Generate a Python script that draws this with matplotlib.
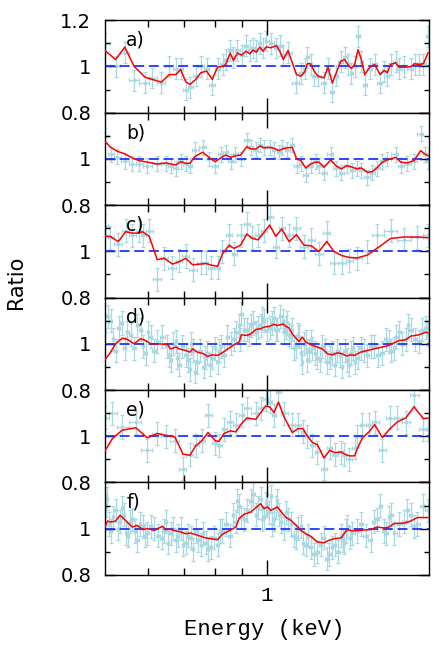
import numpy as np
import matplotlib
matplotlib.use("Agg")
import matplotlib.pyplot as plt
from matplotlib.ticker import NullFormatter

plt.rcParams['font.family'] = 'DejaVu Sans'

# ---- panel a ----
energy_a = [0.500, 0.523, 0.544, 0.566, 0.593, 0.612, 0.636, 0.658, 0.677, 0.691,
            0.706, 0.719, 0.737, 0.753, 0.772, 0.791, 0.809, 0.829, 0.838, 0.854,
            0.866, 0.881, 0.897, 0.913, 0.929, 0.942, 0.955, 0.969, 0.983, 0.997,
            1.016, 1.041, 1.056, 1.072, 1.094, 1.134, 1.155, 1.175, 1.188, 1.205,
            1.223, 1.244, 1.276, 1.298, 1.322, 1.345, 1.370, 1.394, 1.416, 1.434,
            1.455, 1.476, 1.497, 1.519, 1.552, 1.585, 1.622, 1.650, 1.673, 1.697,
            1.734, 1.759, 1.797, 1.849, 1.881, 1.916, 1.952, 1.991]
model_a = [1.069, 1.030, 1.084, 1.001, 0.954, 0.944, 0.932, 0.965, 0.965, 0.987,
           0.934, 0.922, 0.944, 0.973, 0.980, 0.944, 0.997, 1.001, 1.009, 1.058,
           1.026, 1.059, 1.049, 1.066, 1.055, 1.071, 1.062, 1.084, 1.066, 1.085,
           1.081, 1.091, 1.066, 1.030, 1.069, 0.965, 0.958, 0.977, 1.012, 1.012,
           0.980, 0.958, 0.951, 0.997, 0.929, 0.973, 1.023, 1.030, 1.006, 0.991,
           1.009, 1.073, 1.030, 0.965, 0.997, 1.009, 0.965, 0.983, 0.973, 1.009,
           1.016, 0.997, 0.997, 0.999, 1.012, 1.009, 1.012, 1.059]
ratio_a = [1.10, 1.00, 1.06, 0.94, 0.93, 0.95, 0.93, 1.00, 0.99, 0.99,
           0.90, 0.91, 0.96, 1.00, 0.99, 0.92, 0.99, 1.01, 1.03, 1.07,
           1.04, 1.07, 1.05, 1.09, 1.07, 1.08, 1.07, 1.10, 1.08, 1.11,
           1.10, 1.08, 1.09, 1.05, 1.06, 0.93, 0.97, 0.99, 1.04, 1.01,
           0.96, 0.96, 0.93, 0.99, 0.89, 0.96, 1.02, 1.04, 1.01, 0.97,
           1.00, 1.13, 1.02, 0.92, 0.99, 1.01, 0.93, 0.98, 0.96, 1.01,
           1.02, 0.99, 1.00, 0.99, 1.01, 1.01, 1.01, 1.13]
err_a = 0.045

# ---- panel b ----
energy_b = [0.500, 0.512, 0.527, 0.544, 0.562, 0.578, 0.599, 0.625, 0.648, 0.662,
            0.677, 0.691, 0.706, 0.719, 0.734, 0.759, 0.780, 0.801, 0.820, 0.838,
            0.856, 0.872, 0.893, 0.917, 0.933, 0.953, 0.971, 0.987, 1.011, 1.030,
            1.053, 1.068, 1.091, 1.114, 1.135, 1.155, 1.180, 1.205, 1.231, 1.249,
            1.276, 1.313, 1.342, 1.374, 1.406, 1.441, 1.468, 1.497, 1.536, 1.569,
            1.599, 1.638, 1.673, 1.734, 1.772, 1.823, 1.876, 1.930, 1.963, 1.991]
model_b = [1.076, 1.050, 1.033, 1.022, 1.004, 0.993, 0.986, 0.978, 0.983, 0.978,
           0.974, 0.988, 0.981, 0.981, 1.010, 1.029, 1.007, 0.988, 1.004, 1.017,
           1.007, 1.013, 1.017, 1.053, 1.043, 1.043, 1.056, 1.048, 1.050, 1.046,
           1.036, 1.043, 1.048, 1.050, 1.000, 0.993, 0.961, 0.978, 0.986, 0.986,
           0.964, 0.996, 0.971, 0.957, 0.971, 0.964, 0.957, 0.961, 0.942, 0.945,
           0.961, 0.986, 0.996, 1.007, 0.986, 0.983, 0.993, 1.036, 1.022, 1.014]
ratio_b = [1.10, 1.02, 1.01, 0.99, 0.98, 0.98, 0.97, 0.98, 0.98, 0.97,
           0.96, 0.99, 0.98, 0.97, 1.04, 1.05, 1.00, 0.97, 1.02, 1.03,
           0.99, 1.02, 1.00, 1.08, 1.05, 1.04, 1.06, 1.05, 1.05, 1.04,
           1.03, 1.05, 1.04, 1.06, 0.97, 0.98, 0.93, 0.97, 0.99, 0.97,
           0.94, 1.02, 0.96, 0.94, 0.97, 0.95, 0.96, 0.95, 0.92, 0.94,
           0.96, 0.99, 1.00, 1.02, 0.97, 0.98, 0.99, 1.11, 1.02, 0.99]
err_b = 0.032

# ---- panel c ----
energy_c = [0.500, 0.511, 0.529, 0.546, 0.562, 0.578, 0.587, 0.604, 0.625, 0.644,
            0.667, 0.686, 0.706, 0.727, 0.753, 0.769, 0.786, 0.809, 0.826, 0.850,
            0.868, 0.893, 0.917, 0.939, 0.962, 0.987, 1.011, 1.038, 1.065, 1.099,
            1.134, 1.171, 1.209, 1.249, 1.291, 1.332, 1.380, 1.420, 1.468, 1.536,
            1.603, 1.697, 1.797, 1.903, 1.991]
model_c = [1.065, 1.065, 1.042, 1.085, 1.079, 1.079, 1.085, 1.065, 0.964, 0.970,
           0.945, 0.955, 0.970, 0.942, 0.945, 0.948, 0.941, 0.935, 0.988, 1.027,
           1.013, 1.027, 1.075, 1.056, 1.050, 1.082, 1.114, 1.065, 1.097, 1.042,
           1.072, 1.027, 1.024, 0.999, 1.043, 0.999, 0.981, 0.974, 0.971, 0.984,
           1.014, 1.056, 1.062, 1.062, 1.059]
ratio_c = [1.11, 1.06, 1.03, 1.09, 1.07, 1.09, 1.07, 1.09, 0.88, 0.97,
           0.93, 0.96, 0.98, 0.92, 0.95, 0.95, 0.93, 0.93, 1.00, 1.07,
           0.99, 1.07, 1.12, 1.06, 1.07, 1.09, 1.15, 1.02, 1.10, 1.07,
           1.10, 1.02, 1.05, 0.99, 1.08, 0.95, 0.95, 0.96, 0.97, 1.00,
           1.07, 1.09, 1.05, 1.06, 1.07]
err_c = 0.05

# ---- panel d ----
energy_d = [0.500, 0.512, 0.523, 0.538, 0.550, 0.566, 0.582, 0.595, 0.608, 0.625,
            0.653, 0.662, 0.677, 0.686, 0.706, 0.719, 0.727, 0.742, 0.762, 0.775,
            0.791, 0.809, 0.820, 0.844, 0.868, 0.887, 0.896, 0.917, 0.933, 0.953,
            0.973, 0.987, 1.011, 1.030, 1.045, 1.072, 1.083, 1.099, 1.114, 1.134,
            1.147, 1.163, 1.180, 1.197, 1.214, 1.240, 1.267, 1.295, 1.322, 1.351,
            1.380, 1.406, 1.430, 1.455, 1.493, 1.536, 1.581, 1.638, 1.685, 1.722,
            1.759, 1.810, 1.849, 1.916, 1.972, 1.991]
model_d = [0.932, 0.964, 1.000, 1.024, 1.019, 1.000, 1.022, 1.014, 1.000, 1.000,
           0.997, 0.978, 0.986, 0.978, 0.971, 0.964, 0.978, 0.964, 0.957, 0.945,
           0.952, 0.950, 0.957, 0.976, 0.996, 1.007, 1.039, 1.036, 1.043, 1.062,
           1.065, 1.072, 1.076, 1.084, 1.079, 1.086, 1.076, 1.068, 1.043, 1.022,
           1.010, 1.029, 1.007, 1.000, 0.993, 0.986, 0.978, 0.957, 0.952, 0.961,
           0.957, 0.947, 0.952, 0.950, 0.964, 0.971, 0.978, 0.986, 0.993, 1.004,
           1.014, 1.017, 1.033, 1.039, 1.050, 1.048]
ratio_d = [1.05, 1.10, 0.97, 1.09, 1.05, 0.98, 1.06, 0.96, 1.03, 1.01,
           0.99, 0.93, 1.01, 0.91, 0.95, 0.89, 0.97, 0.92, 0.90, 0.96,
           0.94, 0.92, 0.99, 1.03, 1.02, 1.08, 1.13, 1.06, 1.08, 1.05,
           1.08, 1.10, 1.07, 1.11, 1.06, 1.10, 1.07, 1.04, 1.06, 0.99,
           1.03, 0.92, 1.01, 0.97, 0.98, 0.94, 0.99, 0.92, 0.96, 0.97,
           0.90, 0.93, 0.96, 0.92, 0.98, 0.95, 0.99, 0.96, 1.01, 0.98,
           1.05, 1.02, 1.06, 1.01, 1.07, 1.04]
# extra (narrower) bins of panel d that lie between the model points
energy_d2 = [0.506, 0.517, 0.530, 0.544, 0.558, 0.574, 0.588, 0.601, 0.616, 0.639,
             0.657, 0.669, 0.681, 0.696, 0.712, 0.723, 0.734, 0.752, 0.768, 0.783,
             0.800, 0.814, 0.832, 0.856, 0.877, 0.891, 0.906, 0.925, 0.943, 0.963,
             0.980, 0.999, 1.020, 1.037, 1.058, 1.077, 1.091, 1.106, 1.124, 1.140,
             1.155, 1.171, 1.188, 1.205, 1.227, 1.253, 1.281, 1.308, 1.336, 1.365,
             1.393, 1.418, 1.442, 1.474, 1.514, 1.558, 1.609, 1.661, 1.703, 1.740,
             1.784, 1.829, 1.882, 1.944]
ratio_d2 = [1.12, 1.02, 1.07, 0.98, 1.04, 1.08, 0.99, 1.05, 0.97, 1.03,
            0.95, 1.00, 0.94, 0.99, 0.93, 1.00, 0.88, 0.97, 0.94, 0.91,
            0.98, 0.97, 0.95, 1.00, 1.05, 1.02, 1.06, 1.04, 1.09, 1.07,
            1.11, 1.06, 1.09, 1.06, 1.12, 1.05, 1.09, 1.03, 0.98, 1.04,
            0.96, 1.00, 0.93, 1.01, 0.96, 0.93, 0.97, 0.94, 0.91, 0.95,
            0.97, 0.91, 0.98, 0.94, 0.97, 0.99, 0.95, 1.02, 0.97, 1.03,
            1.00, 1.08, 1.02, 1.06]
err_d = 0.05

# ---- panel e ----
energy_e = [0.500, 0.516, 0.538, 0.570, 0.599, 0.625, 0.648, 0.674, 0.698, 0.719,
            0.737, 0.758, 0.777, 0.801, 0.814, 0.832, 0.854, 0.875, 0.897, 0.917,
            0.953, 0.973, 0.994, 1.011, 1.030, 1.050, 1.075, 1.114, 1.142, 1.166,
            1.188, 1.214, 1.240, 1.276, 1.307, 1.336, 1.374, 1.390, 1.420, 1.455,
            1.472, 1.504, 1.547, 1.585, 1.638, 1.693, 1.747, 1.810, 1.876, 1.952,
            1.991]
model_e = [0.937, 0.990, 1.026, 1.037, 0.993, 1.012, 1.004, 0.997, 0.922, 0.918,
           0.958, 0.983, 1.016, 0.980, 0.978, 1.012, 1.023, 1.019, 1.055, 1.079,
           1.073, 1.102, 1.131, 1.127, 1.102, 1.148, 1.084, 1.016, 1.033, 1.033,
           1.001, 0.973, 0.964, 0.906, 0.939, 0.929, 0.932, 0.924, 0.915, 0.915,
           0.947, 0.993, 1.019, 1.050, 0.994, 1.033, 1.062, 1.079, 1.127, 1.076,
           1.079]
ratio_e = [1.08, 1.10, 1.04, 1.06, 0.94, 1.01, 1.00, 0.98, 0.86, 0.92,
           0.96, 0.98, 1.09, 0.97, 0.96, 1.03, 1.06, 1.05, 1.09, 1.12,
           1.10, 1.12, 1.16, 1.15, 1.09, 1.19, 1.10, 1.05, 1.05, 1.02,
           1.00, 0.96, 0.93, 0.86, 0.95, 0.92, 0.93, 0.92, 0.90, 0.95,
           1.00, 1.05, 1.05, 1.06, 0.94, 1.08, 1.08, 1.06, 1.18, 1.03,
           1.03]
err_e = 0.05

# ---- panel f ----
energy_f = [0.500, 0.505, 0.512, 0.523, 0.533, 0.542, 0.552, 0.562, 0.574, 0.587,
            0.599, 0.617, 0.639, 0.648, 0.662, 0.677, 0.691, 0.706, 0.721, 0.737,
            0.753, 0.769, 0.786, 0.809, 0.826, 0.854, 0.875, 0.887, 0.906, 0.933,
            0.953, 0.973, 0.987, 1.001, 1.016, 1.030, 1.045, 1.063, 1.083, 1.107,
            1.134, 1.155, 1.180, 1.205, 1.240, 1.276, 1.304, 1.336, 1.374, 1.390,
            1.410, 1.441, 1.493, 1.558, 1.599, 1.650, 1.685, 1.722, 1.797, 1.849,
            1.903, 1.991]
model_f = [1.007, 1.033, 1.029, 1.033, 1.058, 1.043, 1.024, 1.007, 1.014, 0.996,
           1.000, 0.993, 1.010, 0.996, 0.997, 0.990, 0.986, 0.978, 0.981, 0.974,
           0.967, 0.960, 0.957, 0.952, 0.976, 0.993, 1.007, 1.043, 1.062, 1.072,
           1.091, 1.108, 1.086, 1.094, 1.079, 1.086, 1.094, 1.072, 1.050, 1.036,
           1.014, 0.993, 0.978, 0.967, 0.942, 0.939, 0.950, 0.957, 0.960, 0.978,
           0.996, 0.990, 0.993, 0.996, 1.007, 1.003, 1.007, 1.022, 1.024, 1.033,
           1.048, 1.048]
ratio_f = [1.06, 1.13, 0.99, 1.08, 1.03, 1.06, 0.97, 1.04, 0.95, 1.01,
           0.98, 1.00, 0.96, 1.03, 0.98, 0.95, 1.00, 0.94, 0.96, 0.99,
           0.93, 0.94, 0.92, 0.93, 0.99, 0.97, 1.03, 1.10, 1.04, 1.12,
           1.06, 1.13, 1.05, 1.10, 1.14, 1.04, 1.12, 1.03, 1.07, 1.02,
           0.96, 1.01, 0.93, 0.92, 0.90, 0.96, 0.89, 0.93, 0.97, 0.94,
           1.01, 0.98, 1.02, 0.95, 1.04, 0.99, 1.05, 0.98, 1.03, 1.06,
           1.02, 1.08]
energy_f2 = [0.502, 0.508, 0.517, 0.528, 0.537, 0.547, 0.557, 0.568, 0.580, 0.593,
             0.608, 0.628, 0.643, 0.655, 0.669, 0.684, 0.698, 0.713, 0.729, 0.745,
             0.761, 0.777, 0.797, 0.817, 0.840, 0.864, 0.881, 0.896, 0.919, 0.943,
             0.963, 0.980, 0.994, 1.008, 1.023, 1.037, 1.054, 1.073, 1.095, 1.120,
             1.144, 1.167, 1.192, 1.222, 1.258, 1.290, 1.320, 1.355, 1.382, 1.400,
             1.425, 1.467, 1.525, 1.578, 1.624, 1.667, 1.703, 1.759, 1.823, 1.876,
             1.947]
ratio_f2 = [1.10, 1.02, 1.05, 1.00, 1.09, 0.98, 1.03, 0.99, 1.02, 0.97,
            1.01, 0.97, 0.99, 0.94, 1.00, 0.97, 0.93, 0.97, 0.91, 0.95,
            0.98, 0.91, 0.96, 0.99, 1.02, 1.06, 1.12, 1.05, 1.08, 1.15,
            1.09, 1.04, 1.11, 1.07, 1.02, 1.09, 1.06, 1.00, 1.04, 0.97,
            1.00, 0.94, 0.97, 0.89, 0.93, 0.87, 0.92, 0.90, 0.95, 0.99,
            0.96, 0.99, 0.97, 1.03, 1.10, 0.98, 1.06, 1.02, 1.08, 1.01,
            1.10]
err_f = 0.05

panels = [
    ('a)', energy_a, model_a, energy_a, ratio_a, err_a),
    ('b)', energy_b, model_b, energy_b, ratio_b, err_b),
    ('c)', energy_c, model_c, energy_c, ratio_c, err_c),
    ('d)', energy_d, model_d, energy_d + energy_d2, ratio_d + ratio_d2, err_d),
    ('e)', energy_e, model_e, energy_e, ratio_e, err_e),
    ('f)', energy_f, model_f, energy_f + energy_f2, ratio_f + ratio_f2, err_f),
]


def bin_halfwidths(e):
    # half widths of the energy bins, from log midpoints between neighbours
    e = np.asarray(e)
    le = np.log10(e)
    mid = (le[1:] + le[:-1]) / 2
    edges = np.concatenate([[le[0] - (le[1] - le[0]) / 2], mid,
                            [le[-1] + (le[-1] - le[-2]) / 2]])
    return e - 10 ** edges[:-1], 10 ** edges[1:] - e


fig, axes = plt.subplots(6, 1, sharex=True, figsize=(4.36, 6.54), dpi=100)
fig.subplots_adjust(left=0.241, right=0.984, top=0.969, bottom=0.121, hspace=0)

for i, (ax, (lab, en, mod, den, rat, err)) in enumerate(zip(axes, panels)):
    order = np.argsort(den)
    den = np.asarray(den)[order]
    rat = np.asarray(rat)[order]
    lo, hi = bin_halfwidths(den)
    ax.errorbar(den, rat, yerr=err, xerr=[lo, hi], fmt='s', ms=2,
                color='#a9d8e2', ecolor='#a9d8e2', elinewidth=0.9,
                capsize=1.5, capthick=0.9, zorder=1)
    ax.axhline(1.0, color='#1f35ff', lw=1.3, dashes=(5.5, 2.6), zorder=2)
    ax.plot(en, mod, color='red', lw=1.1, zorder=3)

    ax.set_xscale('log')
    ax.set_xlim(0.5, 2.0)
    ax.set_ylim(0.8, 1.2)
    ax.set_xticks([1.0])
    ax.set_xticks([0.6, 0.7, 0.8, 0.9], minor=True)
    ax.xaxis.set_minor_formatter(NullFormatter())
    ax.set_xticklabels(['1'])
    ax.set_yticks([0.8, 1.0, 1.2])
    ax.set_yticks([0.9, 1.1], minor=True)
    ax.set_yticklabels(['0.8', '1', '1.2' if i == 0 else ''])
    ax.tick_params(axis='both', which='both', direction='in', top=True,
                   right=True, width=1.0)
    ax.tick_params(axis='x', which='major', length=11, pad=8,
                   labelsize=15, labelfontfamily='Liberation Mono')
    ax.tick_params(axis='x', which='minor', length=5)
    ax.tick_params(axis='y', which='major', length=7, pad=10, labelsize=14)
    ax.tick_params(axis='y', which='minor', length=3.5)
    for s in ax.spines.values():
        s.set_linewidth(1.0)
    ax.text(0.065, 0.785, lab, transform=ax.transAxes, fontsize=13.5,
            va='center', ha='left')

fig.text(0.037, 0.569, 'Ratio', rotation=90, fontsize=15,
         ha='center', va='center')
fig.text(0.606, 0.037, 'Energy (keV)', fontsize=16,
         family='Liberation Mono', ha='center', va='center')

fig.savefig('out.png', dpi=100)
